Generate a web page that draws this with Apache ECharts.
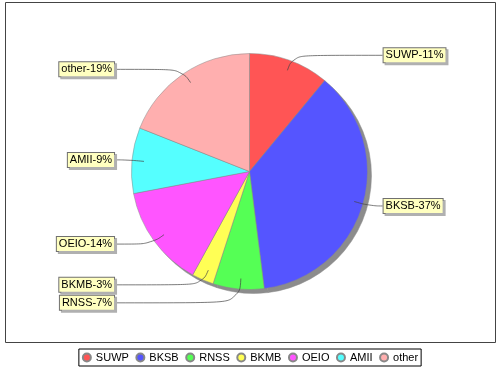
<!DOCTYPE html>
<html>
<head>
<meta charset="utf-8">
<script src="https://cdn.jsdelivr.net/npm/echarts@6/dist/echarts.min.js"></script>
<style>
html,body{margin:0;padding:0;background:#fff;}
#chart{width:500px;height:370px;}
</style>
</head>
<body>
<div id="chart"></div>
<script>
const categories = ['SUWP', 'BKSB', 'RNSS', 'BKMB', 'OEIO', 'AMII', 'other'];
const values = [11, 37, 7, 3, 14, 9, 19];
const colors = ['#FF5555', '#5555FF', '#55FF55', '#FFFF55', '#FF55FF', '#55FFFF', '#FFAFAF'];

const FONT = '"Liberation Sans", Arial, sans-serif';
const CX = 249.5, CY = 171.5, R = 118;

const pieData = categories.map((c, i) => ({ name: c, value: values[i], itemStyle: { color: colors[i] } }));
const shadowData = categories.map((c, i) => ({ name: c, value: values[i] }));
const labelData = categories.map((c, i) => ({ name: c, value: values[i] }));

const chart = echarts.init(document.getElementById('chart'), null, { renderer: 'canvas' });
chart.setOption({
  backgroundColor: '#ffffff',
  animation: false,
  graphic: [{
    type: 'rect', z: -10, silent: true,
    shape: { x: 5.5, y: 2.5, width: 490, height: 340 },
    style: { fill: '#ffffff', stroke: '#444444', lineWidth: 1 }
  }],
  legend: {
    data: categories,
    top: 349,
    left: 'center',
    orient: 'horizontal',
    icon: 'circle',
    itemWidth: 8,
    itemHeight: 8,
    itemGap: 6.5,
    padding: [3, 3],
    borderColor: '#000000',
    borderWidth: 1,
    textStyle: { fontFamily: FONT, fontSize: 11, color: '#000000' }
  },
  series: [
    {
      name: 'pie',
      type: 'pie',
      z: 3,
      center: [CX, CY],
      radius: R,
      startAngle: 90,
      clockwise: true,
      silent: true,
      label: { show: false },
      labelLine: { show: false },
      emphasis: { disabled: true },
      itemStyle: { borderColor: '#888888', borderWidth: 0.5 },
      data: pieData
    },
    {
      name: 'labels',
      type: 'pie',
      z: 4,
      center: [CX + 1.5, CY],
      radius: 107.5,
      startAngle: 90,
      clockwise: true,
      silent: true,
      emphasis: { disabled: true },
      itemStyle: { color: 'rgba(0,0,0,0)', borderWidth: 0 },
      avoidLabelOverlap: true,
      label: {
        show: true,
        position: 'outer',
        alignTo: 'labelLine',
        distanceToLabelLine: 1,
        formatter: p => p.name + '-' + Math.round(p.percent) + '%',
        fontFamily: FONT,
        fontSize: 11,
        color: '#000000',
        backgroundColor: '#FFFFC0',
        borderColor: '#707070',
        borderWidth: 1,
        padding: [2, 2, 1, 2],
        shadowColor: '#b0b0b0',
        shadowOffsetX: 2,
        shadowOffsetY: 2,
        shadowBlur: 0
      },
      labelLine: {
        show: true,
        length: 16,
        length2: 13,
        smooth: 0.5,
        lineStyle: { color: '#444444', width: 0.7 }
      },
      data: labelData
    },
    {
      name: 'shadow',
      type: 'pie',
      z: 2,
      center: [CX + 4, CY + 4],
      radius: R,
      startAngle: 90,
      clockwise: true,
      silent: true,
      label: { show: false },
      labelLine: { show: false },
      emphasis: { disabled: true },
      itemStyle: { color: '#8c8c8c', borderColor: '#8c8c8c', borderWidth: 0.5 },
      data: shadowData
    }
  ]
});
</script>
</body>
</html>
